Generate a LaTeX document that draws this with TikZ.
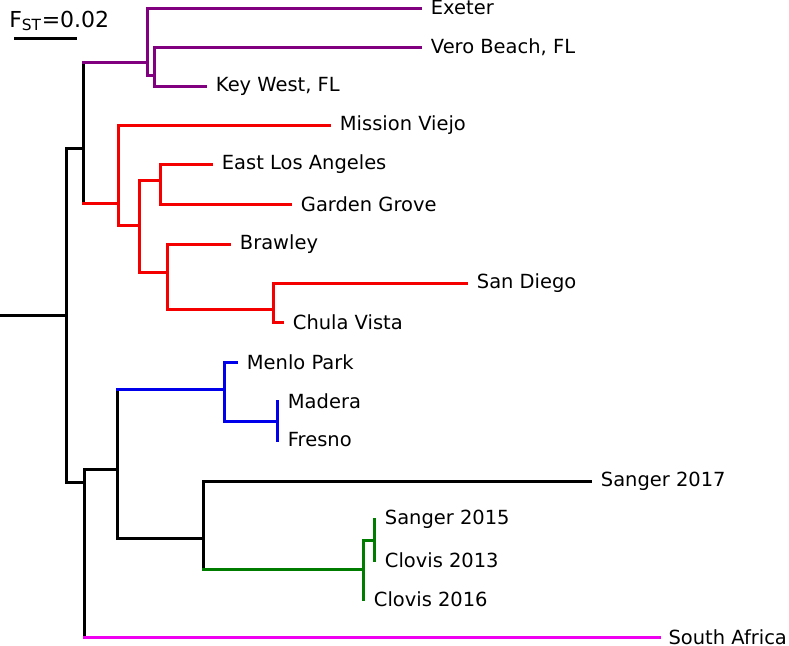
\documentclass[tikz,border=0pt]{standalone}
\usepackage{fontspec}
\setmainfont{DejaVu Sans}

\definecolor{treepurple}{RGB}{128,0,128}
\definecolor{treered}{RGB}{245,0,0}
\definecolor{treeblue}{RGB}{0,0,235}
\definecolor{treegreen}{RGB}{0,125,0}
\definecolor{treemagenta}{RGB}{240,0,240}

\tikzset{
  branch/.style = {line width=2.25pt, line cap=rect},
  taxon/.style = {anchor=west, inner sep=0pt, xshift=8pt, font=\fontsize{14.6}{17}\selectfont}
}

\begin{document}
\begin{tikzpicture}[x=0.75pt, y=-0.75pt]

\useasboundingbox (0,0) rectangle (789,646);

% scale bar
\node [anchor=base west, inner sep=0pt, font=\fontsize{16.5}{19}\selectfont] (fst) at (9,27) {F\textsubscript{ST}=0.02};
\draw [branch, line cap=butt] (14,38) -- (77,38);

% internal nodes
\coordinate (base) at (0,315);
\coordinate (root) at (66,315);
\coordinate (n1) at (83,148);
\coordinate (p1) at (147,62);
\coordinate (p2) at (154,75);
\coordinate (r1) at (118,203);
\coordinate (r2) at (139,225);
\coordinate (r3) at (160,180);
\coordinate (r4) at (167,272);
\coordinate (r5) at (273,309);
\coordinate (n2) at (84,482);
\coordinate (n3) at (117,469);
\coordinate (b1) at (224,389);
\coordinate (b2) at (277,421);
\coordinate (k1) at (203,538);
\coordinate (g1) at (363,569);
\coordinate (g2) at (374,540);

% leaves
\coordinate (exeter) at (420,8);
\coordinate (vero) at (420,47);
\coordinate (keywest) at (205,86);
\coordinate (mission) at (329,125);
\coordinate (eastla) at (211,164);
\coordinate (garden) at (290,204);
\coordinate (brawley) at (229,244);
\coordinate (sandiego) at (466,283);
\coordinate (chula) at (282,322);
\coordinate (menlo) at (236,362);
\coordinate (madera) at (277,401);
\coordinate (fresno) at (277,440);
\coordinate (sanger17) at (590,481);
\coordinate (sanger15) at (374,519);
\coordinate (clovis13) at (374,560);
\coordinate (clovis16) at (363,599);
\coordinate (safrica) at (659,637);

% black backbone
\draw [branch] (base) -- (root);
\draw [branch] (n1 -| root) -- (n2 -| root);
\draw [branch] (n1 -| root) -- (n1);
\draw [branch] (n2 -| root) -- (n2);
\draw [branch] (p1 -| n1) -- (r1 -| n1);
\draw [branch] (n3 -| n2) -- (safrica -| n2);
\draw [branch] (n3 -| n2) -- (n3);
\draw [branch] (b1 -| n3) -- (k1 -| n3);
\draw [branch] (k1 -| n3) -- (k1);
\draw [branch] (sanger17 -| k1) -- (g1 -| k1);
\draw [branch] (sanger17 -| k1) -- (sanger17);

% purple clade
\draw [branch, treepurple] (p1 -| n1) -- (p1);
\draw [branch, treepurple] (exeter -| p1) -- (p2 -| p1);
\draw [branch, treepurple] (exeter -| p1) -- (exeter);
\draw [branch, treepurple] (p2 -| p1) -- (p2);
\draw [branch, treepurple] (vero -| p2) -- (keywest -| p2);
\draw [branch, treepurple] (vero -| p2) -- (vero);
\draw [branch, treepurple] (keywest -| p2) -- (keywest);

% red clade
\draw [branch, treered] (r1 -| n1) -- (r1);
\draw [branch, treered] (mission -| r1) -- (r2 -| r1);
\draw [branch, treered] (mission -| r1) -- (mission);
\draw [branch, treered] (r2 -| r1) -- (r2);
\draw [branch, treered] (r3 -| r2) -- (r4 -| r2);
\draw [branch, treered] (r3 -| r2) -- (r3);
\draw [branch, treered] (r4 -| r2) -- (r4);
\draw [branch, treered] (eastla -| r3) -- (garden -| r3);
\draw [branch, treered] (eastla -| r3) -- (eastla);
\draw [branch, treered] (garden -| r3) -- (garden);
\draw [branch, treered] (brawley -| r4) -- (r5 -| r4);
\draw [branch, treered] (brawley -| r4) -- (brawley);
\draw [branch, treered] (r5 -| r4) -- (r5);
\draw [branch, treered] (sandiego -| r5) -- (chula -| r5);
\draw [branch, treered] (sandiego -| r5) -- (sandiego);
\draw [branch, treered] (chula -| r5) -- (chula);

% blue clade
\draw [branch, treeblue] (b1 -| n3) -- (b1);
\draw [branch, treeblue] (menlo -| b1) -- (b2 -| b1);
\draw [branch, treeblue] (menlo -| b1) -- (menlo);
\draw [branch, treeblue] (b2 -| b1) -- (b2);
\draw [branch, treeblue] (madera) -- (fresno);

% green clade
\draw [branch, treegreen] (g1 -| k1) -- (g1);
\draw [branch, treegreen] (g2 -| g1) -- (clovis16);
\draw [branch, treegreen] (g2 -| g1) -- (g2);
\draw [branch, treegreen] (sanger15) -- (clovis13);

% outgroup
\draw [branch, treemagenta] (safrica -| n2) -- (safrica);

% labels
\node [taxon] (lexeter) at (exeter) {Exeter};
\node [taxon] (lvero) at (vero) {Vero Beach, FL};
\node [taxon] (lkeywest) at (keywest) {Key West, FL};
\node [taxon] (lmission) at (mission) {Mission Viejo};
\node [taxon] (leastla) at (eastla) {East Los Angeles};
\node [taxon] (lgarden) at (garden) {Garden Grove};
\node [taxon] (lbrawley) at (brawley) {Brawley};
\node [taxon] (lsandiego) at (sandiego) {San Diego};
\node [taxon] (lchula) at (chula) {Chula Vista};
\node [taxon] (lmenlo) at (menlo) {Menlo Park};
\node [taxon] (lmadera) at (madera) {Madera};
\node [taxon] (lfresno) at (fresno) {Fresno};
\node [taxon] (lsanger17) at (sanger17) {Sanger 2017};
\node [taxon] (lsanger15) at (sanger15) {Sanger 2015};
\node [taxon] (lclovis13) at (clovis13) {Clovis 2013};
\node [taxon] (lclovis16) at (clovis16) {Clovis 2016};
\node [taxon, xshift=-1pt] (lsafrica) at (safrica) {South Africa};

\end{tikzpicture}
\end{document}
